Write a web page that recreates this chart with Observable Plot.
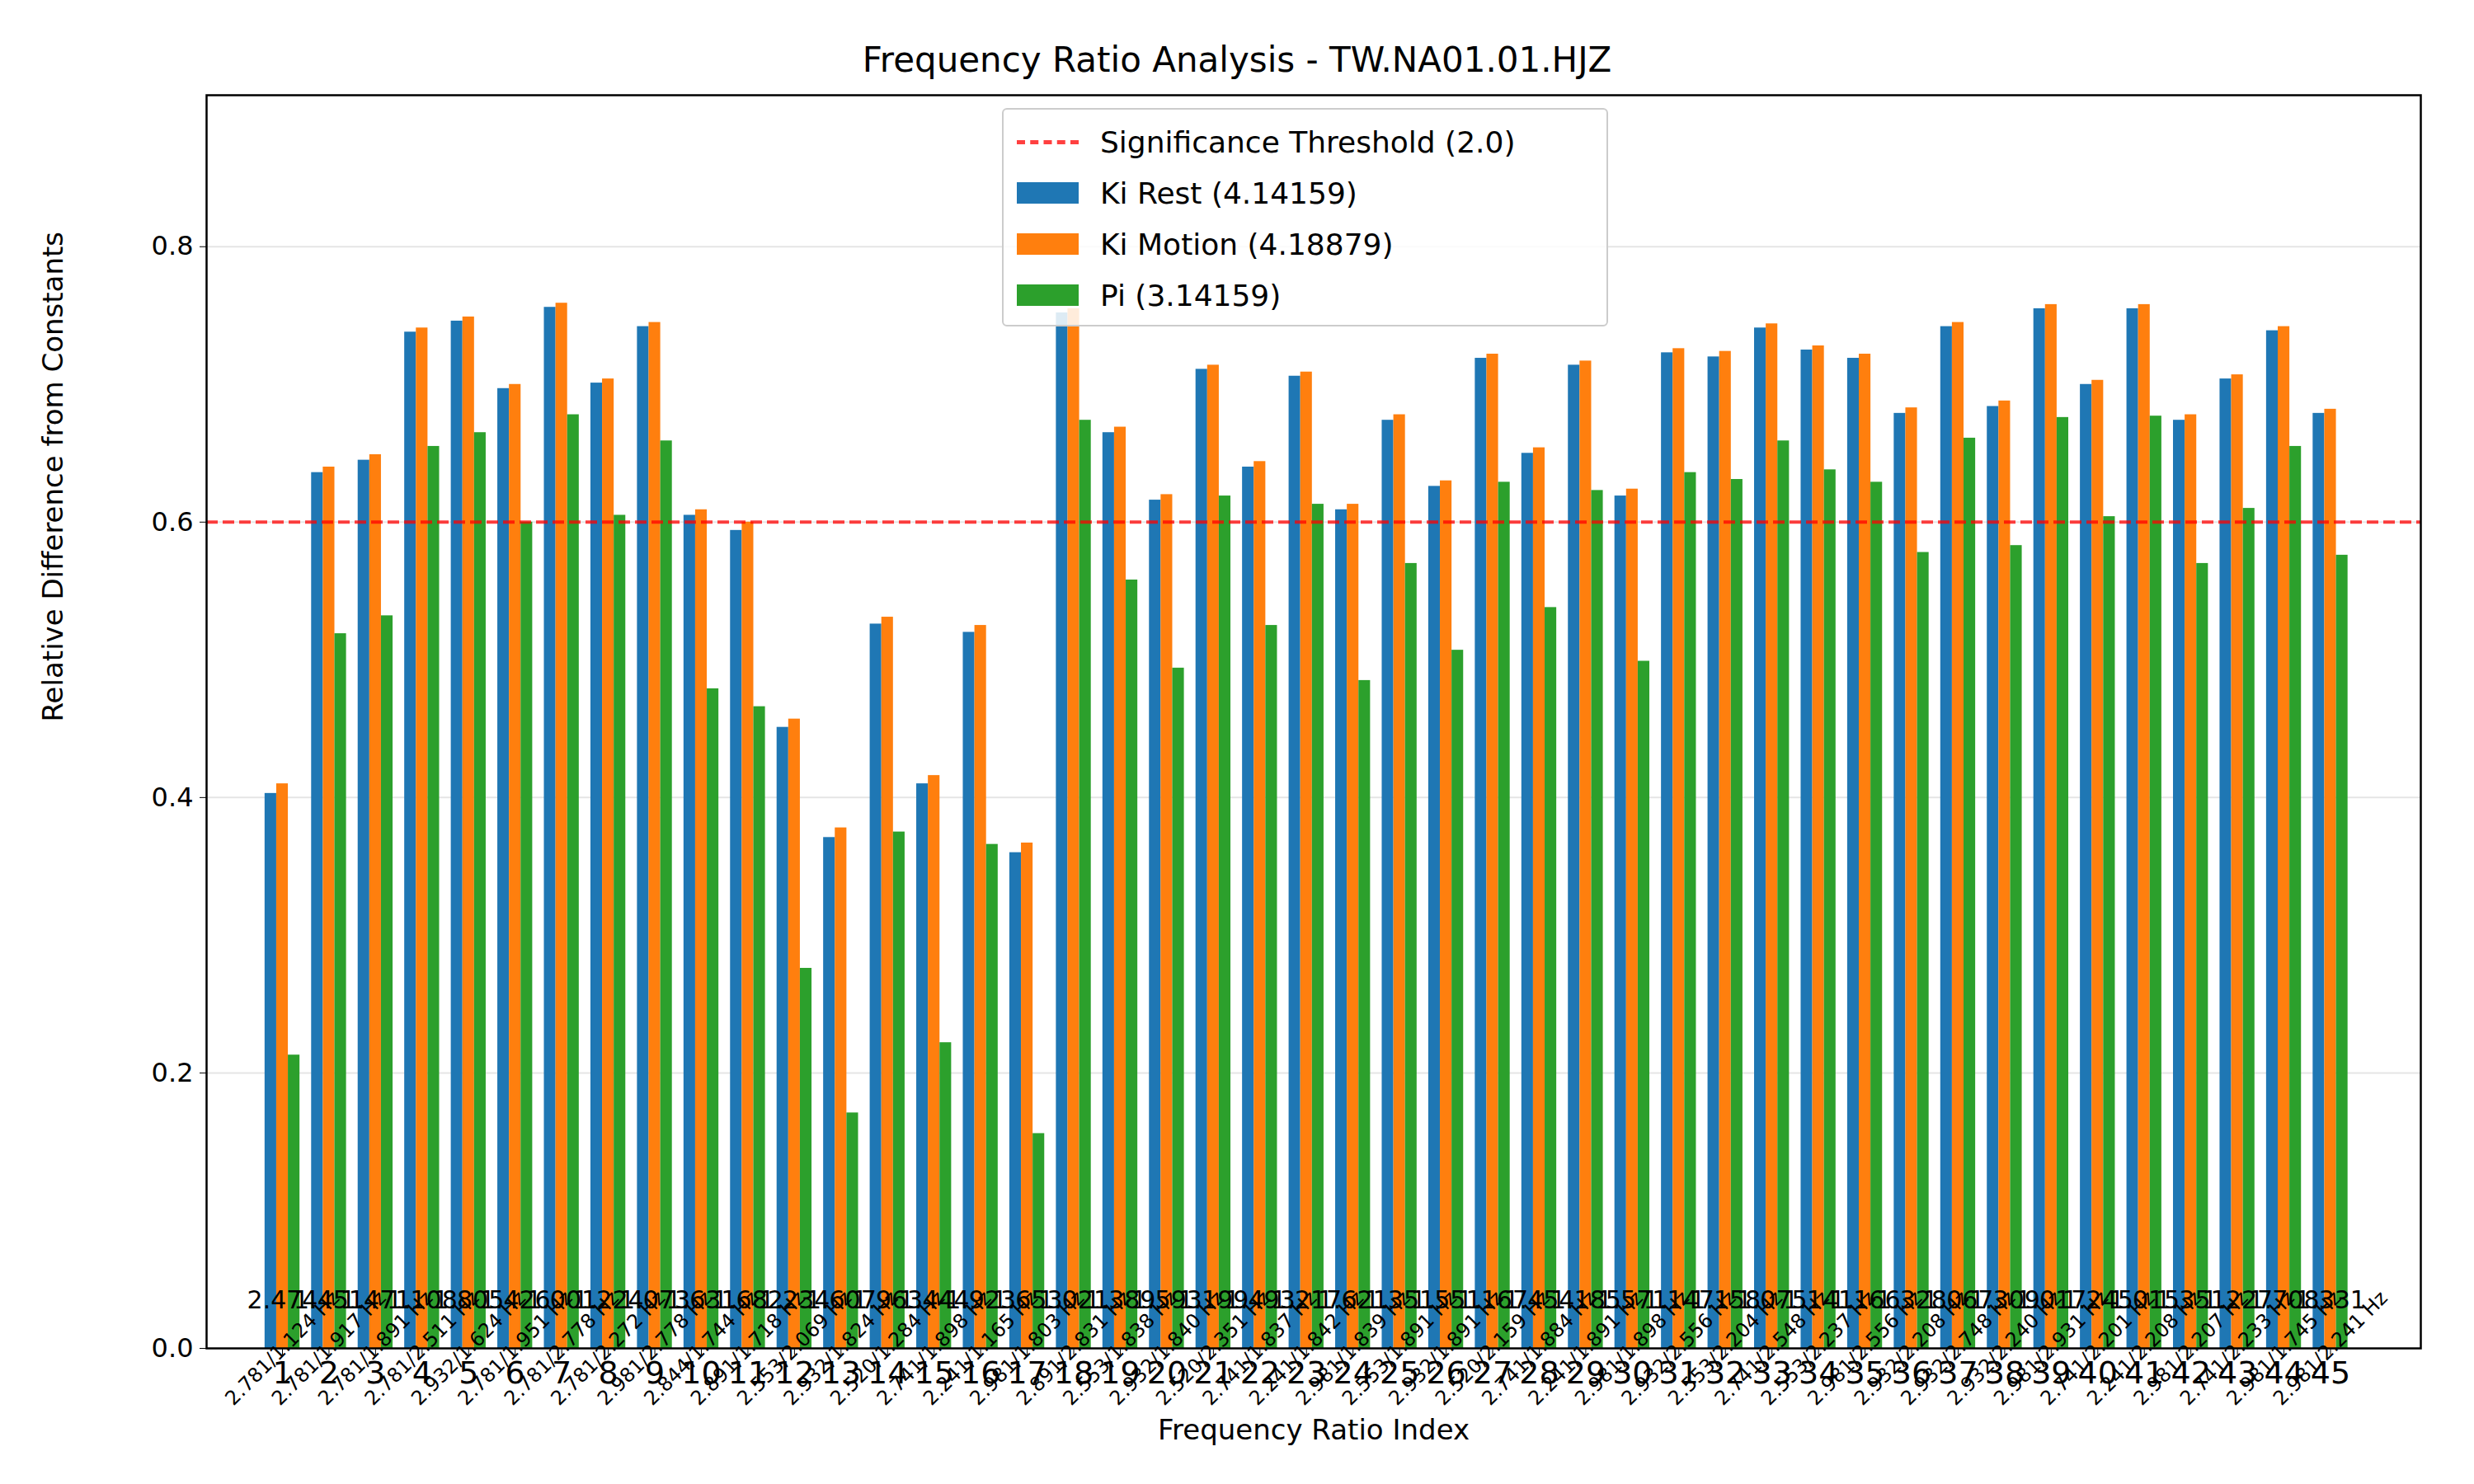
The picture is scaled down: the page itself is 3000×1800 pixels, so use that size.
<!DOCTYPE html>
<html>
<head>
<meta charset="utf-8">
<script src="https://cdn.jsdelivr.net/npm/d3@7"></script>
<script src="https://cdn.jsdelivr.net/npm/@observablehq/plot@0.6"></script>
<style>
  body { margin: 0; background: white; font-family: "DejaVu Sans", sans-serif; }
  #wrap { position: relative; width: 3000px; height: 1800px; }
  #title { height: 100px; line-height: 145px; text-align: center; font-size: 42px; }
  #legend { position: absolute; left: 1215px; top: 131px; width: 735px; height: 265px;
    border: 2px solid #ccc; border-radius: 6px; background: rgba(255,255,255,0.85);
    font-size: 36px; box-sizing: border-box; padding: 8px 16px; }
  .row { display: flex; align-items: center; height: 62px; }
  .sw { width: 75px; height: 26px; margin-right: 26px; }
  .dash { width: 75px; height: 0; border-top: 5px dashed rgba(255,0,0,0.75); margin-right: 26px; }
</style>
</head>
<body>
<div id="wrap">
  <div id="title">Frequency Ratio Analysis - TW.NA01.01.HJZ</div>
  <div id="chart"></div>
  <div id="legend">
    <div class="row"><div class="dash"></div>Significance Threshold (2.0)</div>
    <div class="row"><div class="sw" style="background:#1f77b4"></div>Ki Rest (4.14159)</div>
    <div class="row"><div class="sw" style="background:#ff7f0e"></div>Ki Motion (4.18879)</div>
    <div class="row"><div class="sw" style="background:#2ca02c"></div>Pi (3.14159)</div>
  </div>
</div>
<script>
const kiRest = [0.403,0.636,0.645,0.738,0.746,0.697,0.756,0.701,0.742,0.605,0.594,0.451,0.371,0.526,0.410,0.520,0.360,0.752,0.665,0.616,0.711,0.640,0.706,0.609,0.674,0.626,0.719,0.650,0.714,0.619,0.723,0.720,0.741,0.725,0.719,0.679,0.742,0.684,0.755,0.700,0.755,0.674,0.704,0.739,0.679];
const kiMotion = [0.410,0.640,0.649,0.741,0.749,0.700,0.759,0.704,0.745,0.609,0.600,0.457,0.378,0.531,0.416,0.525,0.367,0.755,0.669,0.620,0.714,0.644,0.709,0.613,0.678,0.630,0.722,0.654,0.717,0.624,0.726,0.724,0.744,0.728,0.722,0.683,0.745,0.688,0.758,0.703,0.758,0.678,0.707,0.742,0.682];
const pi = [0.213,0.519,0.532,0.655,0.665,0.600,0.678,0.605,0.659,0.479,0.466,0.276,0.171,0.375,0.222,0.366,0.156,0.674,0.558,0.494,0.619,0.525,0.613,0.485,0.570,0.507,0.629,0.538,0.623,0.499,0.636,0.631,0.659,0.638,0.629,0.578,0.661,0.583,0.676,0.604,0.677,0.570,0.610,0.655,0.576];
const ratios = ["2.474","1.451","1.471","1.108","1.805","1.426","1.001","1.224","1.073","1.631","1.682","1.234","1.607","1.963","1.444","1.923","1.653","1.021","1.389","1.593","1.199","1.493","1.217","1.621","1.351","1.551","1.167","1.454","1.185","1.571","1.147","1.158","1.075","1.141","1.166","1.328","1.067","1.309","1.017","1.245","1.015","1.351","1.227","1.708","1.331"];
const freqA = ["2.781","2.781","2.781","2.781","2.932","2.781","2.781","2.781","2.981","2.844","2.891","2.553","2.932","2.520","2.741","2.241","2.981","2.891","2.553","2.932","2.520","2.741","2.241","2.981","2.553","2.932","2.520","2.741","2.241","2.981","2.932","2.553","2.741","2.553","2.981","2.932","2.932","2.932","2.981","2.741","2.241","2.981","2.741","2.981","2.981"];
const freqB = ["1.124","1.917","1.891","2.511","1.624","1.951","2.778","2.272","2.778","1.744","1.718","2.069","1.824","1.284","1.898","1.165","1.803","2.831","1.838","1.840","2.351","1.837","1.842","1.839","1.891","1.891","2.159","1.884","1.891","1.898","2.556","2.204","2.548","2.237","2.556","2.208","2.748","2.240","2.931","2.201","2.208","2.207","2.233","1.745","2.241"];
const names = ["Ki Rest (4.14159)", "Ki Motion (4.18879)", "Pi (3.14159)"];
const colors = ["#1f77b4", "#ff7f0e", "#2ca02c"];
const threshold = 0.6;

const idx = d3.range(1, 46);
const w = 0.25;
const bars = [];
[kiRest, kiMotion, pi].forEach((s, k) => s.forEach((v, i) => {
  const c = idx[i] + (k - 1) * w;
  bars.push({x1: c - w / 2, x2: c + w / 2, y: v, s: names[k]});
}));
const labels = idx.map((d, i) => ({x: d, ratio: ratios[i], freq: `${freqA[i]}/${freqB[i]} Hz`}));

const chart = Plot.plot({
  width: 3000, height: 1700,
  marginLeft: 250, marginRight: 65, marginTop: 15, marginBottom: 165,
  style: {fontFamily: "DejaVu Sans", fontSize: "32px", overflow: "visible"},
  x: {domain: [-0.63, 46.94], label: null},
  y: {domain: [0, 0.91], label: null},
  color: {domain: names, range: colors},
  marks: [
    Plot.gridY([0.2, 0.4, 0.6, 0.8], {stroke: "#000", strokeOpacity: 0.1, strokeWidth: 2}),
    Plot.rectY(bars, {x1: "x1", x2: "x2", y: "y", fill: "s"}),
    Plot.ruleY([threshold], {stroke: "red", strokeOpacity: 0.75, strokeWidth: 4, strokeDasharray: "14,6"}),
    Plot.text(labels, {x: "x", y: 0.035, text: "ratio", fontSize: 30, fill: "black"}),
    Plot.text(labels, {x: "x", y: 0, text: "freq", rotate: -45, textAnchor: "middle", fontSize: 24, dy: 0, clip: false}),
    Plot.axisY({ticks: [0, 0.2, 0.4, 0.6, 0.8], tickFormat: d3.format(".1f"), fontSize: 32, tickSize: 8, tickPadding: 8}),
    Plot.axisX({ticks: idx, tickFormat: d => d, fontSize: 38, tickSize: 8, tickPadding: 8}),
    Plot.frame({stroke: "black", strokeWidth: 2.5}),
    Plot.text(["Frequency Ratio Index"], {frameAnchor: "bottom", dy: 110, fontSize: 34}),
    Plot.text(["Relative Difference from Constants"], {frameAnchor: "left", dx: -185, rotate: -90, fontSize: 34})
  ]
});
d3.select("#chart").append(() => chart);
</script>
</body>
</html>
